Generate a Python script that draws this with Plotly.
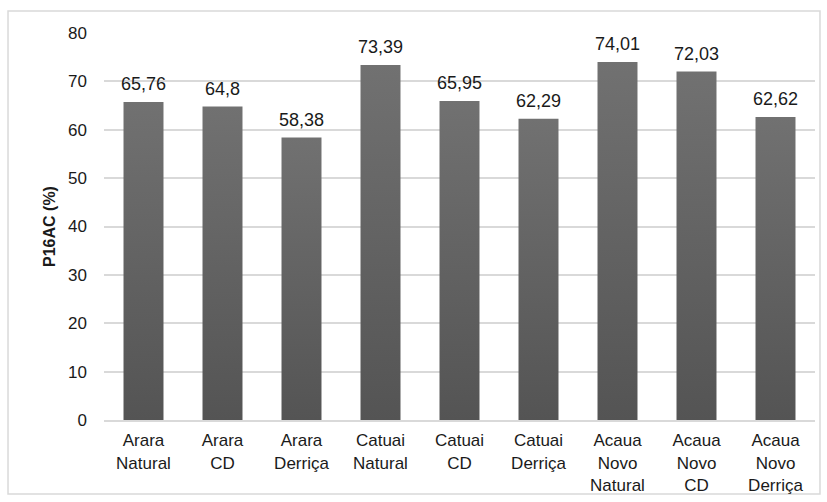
import plotly.graph_objects as go

categories = ["Arara<br>Natural", "Arara<br>CD", "Arara<br>Derriça",
              "Catuai<br>Natural", "Catuai<br>CD", "Catuai<br>Derriça",
              "Acaua<br>Novo<br>Natural", "Acaua<br>Novo<br>CD", "Acaua<br>Novo<br>Derriça"]
values = [65.76, 64.8, 58.38, 73.39, 65.95, 62.29, 74.01, 72.03, 62.62]
value_labels = ["65,76", "64,8", "58,38", "73,39", "65,95", "62,29", "74,01", "72,03", "62,62"]
y_ticks = [0, 10, 20, 30, 40, 50, 60, 70, 80]

FONT = "Liberation Sans, Arial, sans-serif"
TEXT = "#1a1a1a"
BAR_HALF = 0.253

fig = go.Figure()

# each bar is a filled polygon so it can carry a vertical gray gradient
for i, v in enumerate(values):
    fig.add_trace(go.Scatter(
        x=[i - BAR_HALF, i + BAR_HALF, i + BAR_HALF, i - BAR_HALF, i - BAR_HALF],
        y=[0, 0, v, v, 0],
        mode="lines",
        line=dict(width=0),
        fill="toself",
        fillgradient=dict(type="vertical",
                          colorscale=[[0, "#545454"], [1, "#717171"]]),
        hoverinfo="skip",
        showlegend=False,
    ))

for i, (v, lab) in enumerate(zip(values, value_labels)):
    fig.add_annotation(x=i, y=v, text=lab, showarrow=False,
                       yanchor="bottom", yshift=6,
                       font=dict(family=FONT, size=18, color=TEXT))

fig.update_layout(
    width=827, height=502,
    margin=dict(l=104, r=12, t=33, b=82),
    paper_bgcolor="white", plot_bgcolor="white",
    font=dict(family=FONT, size=17, color=TEXT),
    xaxis=dict(range=[-0.5, len(values) - 0.5],
               tickvals=list(range(len(categories))), ticktext=categories,
               showgrid=False, zeroline=False, automargin=False,
               showline=True, linecolor="#d9d9d9", linewidth=2,
               ticks="", ticklabelstandoff=4,
               tickfont=dict(size=17, family=FONT, color=TEXT)),
    yaxis=dict(range=[0, 80], tickvals=y_ticks, automargin=False,
               showgrid=True, gridcolor="#d9d9d9", gridwidth=1.5,
               zeroline=False, showline=False, ticks="",
               ticklabelstandoff=16,
               tickfont=dict(size=17, family=FONT, color=TEXT),
               title=dict(text="<b>P16AC (%)</b>", standoff=8,
                          font=dict(size=16, family=FONT, color=TEXT))),
    shapes=[dict(type="rect", xref="paper", yref="paper",
                 x0=-0.135, x1=1.007, y0=-0.191, y1=1.057,
                 line=dict(color="#d9d9d9", width=1.5), layer="below")],
)

fig.write_html("out.html")
